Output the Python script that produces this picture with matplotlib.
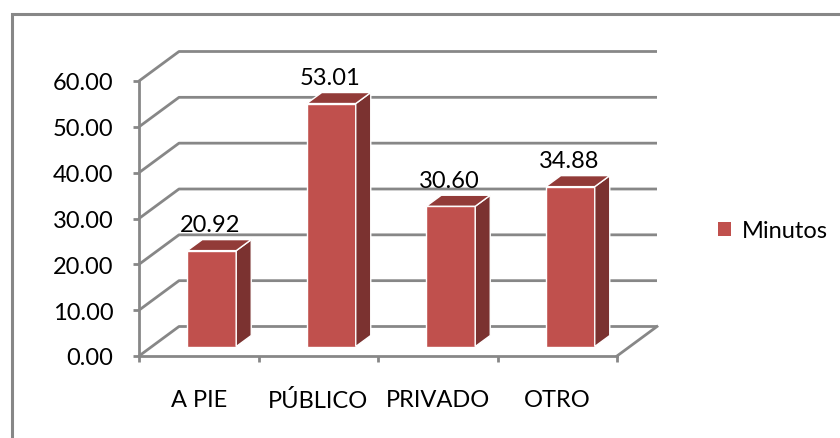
import matplotlib
matplotlib.use("Agg")
import matplotlib.pyplot as plt
import matplotlib.patches as patches
import numpy as np

# data
categories = ["A PIE", "PÚBLICO", "PRIVADO", "OTRO"]
minutos = [20.92, 53.01, 30.60, 34.88]
series_name = "Minutos"
y_ticks = [0, 10, 20, 30, 40, 50, 60]

plt.rcParams['font.family'] = ['Lato', 'DejaVu Sans']
FS = 17

FRONT = '#C0504D'
SIDE = '#7B3230'
TOP = '#923B38'
GRID = '#878787'

W, H = 840, 439
fig = plt.figure(figsize=(W / 100, H / 100), dpi=100)

# front plane of the plot box in pixels
left, right, bottom_px, top_px = 139, 617, 357, 82
ax = fig.add_axes([left / W, 1 - bottom_px / H, (right - left) / W, (bottom_px - top_px) / H])
n = len(categories)
ax.set_xlim(-0.5, n - 0.5)
ax.set_ylim(0, 60)

# pixel -> data unit helpers
ux = (right - left) / n
uy = (bottom_px - top_px) / 60.0
def px(dx, dy):
    return dx / ux, dy / uy

wall_dx, wall_dy = px(40, 29.5)   # depth of the whole box
bar_ox, bar_oy = px(13, 9.5)      # bar front face offset into depth
bar_dx, bar_dy = px(15, 11)       # bar depth

# back wall + side wall gridlines
x0, x1 = -0.5, n - 0.5
for v in y_ticks:
    ax.plot([x0, x0 + wall_dx, x1 + wall_dx], [v, v + wall_dy, v + wall_dy],
            color=GRID, lw=2, clip_on=False, zorder=1, solid_capstyle='butt')
# floor right edge
ax.plot([x1, x1 + wall_dx], [0, wall_dy], color=GRID, lw=2, clip_on=False, zorder=1)

# bars
xs = np.arange(n)
width = 0.41
ax.bar(xs + bar_ox, minutos, width=width, bottom=bar_oy, color=FRONT,
       edgecolor='white', linewidth=1, zorder=3, clip_on=False, label=series_name)
for x, v in zip(xs, minutos):
    bl = x + bar_ox - width / 2
    br = x + bar_ox + width / 2
    t = bar_oy + v
    top = patches.Polygon([(bl, t), (br, t), (br + bar_dx, t + bar_dy), (bl + bar_dx, t + bar_dy)],
                          closed=True, facecolor=TOP, edgecolor='white', lw=1, zorder=3, clip_on=False)
    side = patches.Polygon([(br, bar_oy), (br + bar_dx, bar_oy + bar_dy), (br + bar_dx, t + bar_dy), (br, t)],
                           closed=True, facecolor=SIDE, edgecolor='white', lw=1, zorder=3, clip_on=False)
    ax.add_patch(side)
    ax.add_patch(top)
    ax.annotate(f"{v:.2f}", (x + bar_ox, t), xytext=(-1, 11), textcoords='offset points',
                ha='center', va='bottom', fontsize=FS, color='black', zorder=4)

# axes styling
for s in ['top', 'right']:
    ax.spines[s].set_visible(False)
for s in ['left', 'bottom']:
    ax.spines[s].set_color(GRID)
    ax.spines[s].set_linewidth(2)
    ax.spines[s].set_zorder(2)
ax.patch.set_visible(False)

ax.set_yticks(y_ticks)
ax.set_yticklabels([f"{v:.2f}" for v in y_ticks])
ax.tick_params(axis='y', length=4.5, width=2, color=GRID, pad=14, labelsize=FS)

ax.set_xticks(np.arange(n + 1) - 0.5)
ax.set_xticklabels([])
ax.set_xticks(xs, minor=True)
ax.set_xticklabels(categories, minor=True)
ax.tick_params(axis='x', which='major', length=4.5, width=2, color=GRID)
ax.tick_params(axis='x', which='minor', length=0, pad=24, labelsize=FS)

# legend
h = patches.Rectangle((0, 0), 1, 1, facecolor=FRONT)
fig.legend([h], [series_name], loc='center left', bbox_to_anchor=(697 / W, 1 - 232 / H),
           frameon=False, fontsize=FS, handlelength=0.55, handleheight=0.55, handletextpad=0.45)

# outer chart frame (only left/top edges visible)
frame = patches.Rectangle((12 / W, -0.1), 1.2, 1 - 15 / H + 0.1, transform=fig.transFigure,
                          fill=False, edgecolor='#878787', lw=2.2, clip_on=False)
fig.patches.append(frame)

fig.savefig('out.png', dpi=100, facecolor='white')
